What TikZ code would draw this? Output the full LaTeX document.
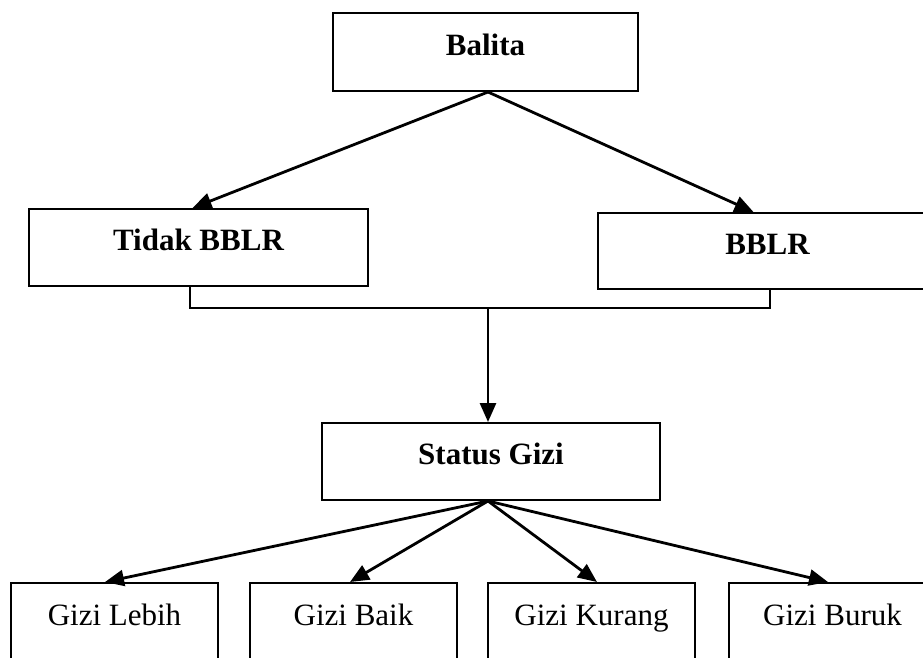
\documentclass[tikz,border=0pt]{standalone}
\usepackage{fontspec}
\setmainfont{Liberation Serif}
\usepackage{tikz}
\usetikzlibrary{arrows.meta, positioning, calc}
\tikzset{box/.style={draw, line width=2pt, text height=21pt, text depth=15pt, font=\fontsize{31}{37}\selectfont}}
\tikzset{head box/.style={box, font=\fontsize{31}{37}\selectfont\bfseries}}
\tikzset{link/.style={line width=2.8pt, -{Triangle[length=19pt, width=16pt]}}}
\tikzset{join line/.style={line width=2pt}}

\begin{document}
\begin{tikzpicture}[x=1pt, y=-1pt]
            \useasboundingbox (0, 0) rectangle (923, 657);
            \node[head box, minimum width=305pt, minimum height=78pt] (balita) at (485.5, 52) {Balita};
            \node[head box, minimum width=339pt, minimum height=77pt] (tidak) at (198.5, 247.5) {Tidak BBLR};
            \node[head box, minimum width=339pt, minimum height=76pt] (bblr) at (767.5, 251) {BBLR};
            \node[head box, minimum width=338pt, minimum height=77pt] (status) at (491, 461.5) {Status Gizi};
            \node[box, minimum width=207pt, minimum height=78pt] (lebih) at (114.5, 622) {Gizi Lebih};
            \node[box, minimum width=207pt, minimum height=78pt] (baik) at (353.5, 622) {Gizi Baik};
            \node[box, minimum width=207pt, minimum height=78pt] (kurang) at (591.5, 622) {Gizi Kurang};
            \node[box, minimum width=207pt, minimum height=78pt] (buruk) at (832.5, 622) {Gizi Buruk};
            \coordinate (top) at ([xshift=2.5pt]balita.south);
            \coordinate (bottom) at ([xshift=-3pt]status.south);
            \draw[link] (top) -- ([xshift=-6pt]tidak.north);
            \draw[link] (top) -- ([xshift=-14pt]bblr.north);
            % bracket below the two groups
            \draw[join line] ([xshift=-8.5pt]tidak.south) -- ++(0, 21) coordinate (left) -| ([xshift=2.5pt]bblr.south);
            \coordinate (join) at ($(left) + (298, 0)$);
            \draw[link] (join) -- (join |- status.north);
            \draw[link] (bottom) -- ([xshift=-9.5pt]lebih.north);
            \draw[link] (bottom) -- ([xshift=-3.5pt]baik.north);
            \draw[link] (bottom) -- ([xshift=5.5pt]kurang.north);
            \draw[link] (bottom) -- ([xshift=-4.5pt]buruk.north);
        \end{tikzpicture}
\end{document}
